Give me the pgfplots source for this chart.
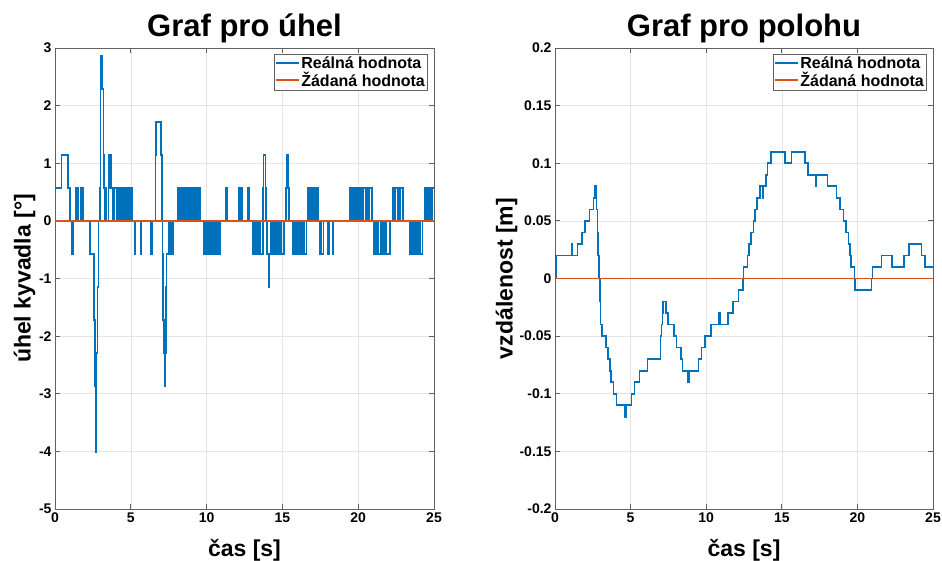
\documentclass[border=0pt]{standalone}
\usepackage{pgfplots}
\pgfplotsset{compat=1.18}
\usepackage{fontspec}
\setmainfont{Liberation Sans}
\definecolor{mblue}{rgb}{0,0.447,0.741}
\definecolor{morange}{rgb}{0.85,0.325,0.098}
\definecolor{maxis}{rgb}{0.38,0.38,0.38}
\pgfplotsset{
  every axis title shift=0pt,
  mystyle/.style={
    scale only axis,
    anchor=south west,
    xmin=0, xmax=25,
    xtick={0,5,10,15,20,25},
    grid=major,
    major grid style={draw=black!10, line width=0.6pt},
    axis line style={draw=maxis, line width=0.8pt},
    major tick style={draw=maxis, line width=0.8pt},
    major tick length=5pt,
    tick align=inside,
    /pgf/number format/assume math mode=true,
    tick label style={font=\fontsize{14}{16}\selectfont\bfseries},
    title style={font=\fontsize{31}{34}\selectfont\bfseries, at={(axis description cs:0.5,1)}, anchor=south, inner sep=0pt, yshift=4.5pt},
    xlabel style={font=\fontsize{23}{26}\selectfont\bfseries, at={(axis description cs:0.5,0)}, anchor=north, inner sep=0pt, yshift=-30pt},
    ylabel style={font=\fontsize{23}{26}\selectfont\bfseries, anchor=center, inner sep=0pt},
    legend style={font=\fontsize{16}{18}\selectfont\bfseries, draw=maxis, inner xsep=1.5pt, inner ysep=1.5pt, row sep=0pt, column sep=0pt, nodes={inner xsep=1pt, inner ysep=1pt}},
    legend cell align=left,
  },
  realna/.style={const plot, mblue, line width=1.6pt, mark=none,
    legend image code/.code={\draw[draw=mblue, line width=2pt] (0pt,0pt) -- (23pt,0pt);}},
  zadana/.style={morange, line width=1.8pt, mark=none,
    legend image code/.code={\draw[draw=morange, line width=2pt] (0pt,0pt) -- (23pt,0pt);}},
}
\begin{document}
\begin{tikzpicture}
\path[use as bounding box] (0,0) rectangle (942pt,560pt);
\begin{axis}[mystyle,
  at={(55pt,51pt)}, width=379pt, height=461pt,
  ymin=-5, ymax=3, ytick={-5,-4,-3,-2,-1,0,1,2,3},
  title={Graf pro úhel},
  xlabel={čas [s]},
  ylabel={úhel kyvadla [°]},
  ylabel style={at={(axis description cs:-0.08,0.5)}},
  legend style={at={(axis description cs:0.983,0.987)}, anchor=north east},
]
\addplot[realna] coordinates {
(0,0.573) (0.44,1.146) (0.84,0.573) (0.97,0) (1.1,-0.573) (1.2,0)
(1.38,0.573) (1.45,0) (1.48,0.573) (1.54,0) (1.69,0.573) (1.78,0) (1.8,0.573) (1.87,0)
(2.30,-0.573) (2.59,-1.719) (2.63,-2.865) (2.66,-4.011) (2.70,-3.438) (2.74,-2.292) (2.80,-1.146)
(2.86,0) (2.95,0.573) (3.00,2.292) (3.05,2.865) (3.14,2.292) (3.20,1.146) (3.25,0.573) (3.30,0)
(3.35,0.573) (3.40,0) (3.52,0.573) (3.58,1.146) (3.70,0.573) (3.78,0) (3.82,0.573)
(3.85,0) (3.90,0.573) (4.05,0) (4.08,0.573) (4.15,0) (4.18,0.573) (4.22,0) (4.25,0.573) (4.30,0)
(4.33,0.573) (4.40,0) (4.42,0.573) (4.48,0) (4.52,0.573) (4.56,0) (4.60,0.573) (4.65,0)
(4.68,0.573) (4.72,0) (4.75,0.573) (4.80,0) (4.83,0.573) (4.88,0) (4.92,0.573) (4.96,0)
(5.00,0.573) (5.06,0)
(5.27,-0.573) (5.32,0) (5.65,-0.573) (5.70,0) (6.32,-0.573) (6.38,0)
(6.62,1.146) (6.66,1.719) (7.00,1.146) (7.04,0) (7.10,-0.573) (7.14,-1.719) (7.18,-2.292)
(7.22,-2.865) (7.27,-2.292) (7.31,-1.146) (7.36,-0.573) (7.48,0) (7.52,-0.573) (7.58,0)
(7.62,-0.573) (7.70,0) (7.74,-0.573) (7.80,0)
(8.08,0.573) (8.15,0) (8.18,0.573) (8.25,0) (8.38,0.573) (8.45,0) (8.48,0.573) (8.52,0)
(8.55,0.573) (8.62,0) (8.65,0.573) (8.72,0) (8.75,0.573) (8.85,0) (8.95,0.573) (9.02,0)
(9.05,0.573) (9.12,0) (9.16,0.573) (9.25,0) (9.30,0.573) (9.40,0) (9.44,0.573) (9.58,0)
(9.82,-0.573) (9.88,0) (10.02,-0.573) (10.08,0) (10.18,-0.573) (10.25,0) (10.32,-0.573) (10.38,0)
(10.48,-0.573) (10.55,0) (10.62,-0.573) (10.70,0) (10.82,-0.573) (10.90,0)
(11.28,0.573) (11.36,0) (12.15,0.573) (12.22,0) (12.30,0.573) (12.35,0) (12.74,0.573) (12.80,0)
(13.05,-0.573) (13.10,0) (13.15,-0.573) (13.25,0) (13.35,-0.573) (13.45,0) (13.55,-0.573) (13.72,0)
(13.74,0.573) (13.76,1.146) (13.88,0.573) (13.92,0)
(14.00,-0.573) (14.10,-1.146) (14.16,-0.573) (14.25,0) (14.30,-0.573) (14.40,0) (14.45,-0.573)
(14.55,0) (14.60,-0.573) (14.70,0) (14.75,-0.573) (14.85,0) (14.90,-0.573) (15.10,0)
(15.25,0.573) (15.29,1.146) (15.35,0.573) (15.45,0)
(15.70,-0.573) (15.78,0) (15.85,-0.573) (15.95,0) (16.05,-0.573) (16.15,0) (16.25,-0.573)
(16.35,0) (16.45,-0.573) (16.60,0)
(16.70,0.573) (16.80,0) (16.85,0.573) (16.95,0) (17.05,0.573) (17.15,0) (17.20,0.573) (17.35,0)
(17.45,-0.573) (17.52,0) (17.58,-0.573) (17.70,0) (18.00,-0.573) (18.08,0) (18.30,-0.573) (18.38,0)
(19.45,0.573) (19.55,0) (19.60,0.573) (19.70,0) (19.75,0.573) (19.85,0) (19.90,0.573) (20.0,0)
(20.05,0.573) (20.15,0) (20.2,0.573) (20.3,0) (20.35,0.573) (20.5,0) (20.55,0.573) (20.65,0)
(20.7,0.573) (20.9,0)
(21.0,-0.573) (21.1,0) (21.2,-0.573) (21.3,0) (21.35,-0.573) (21.5,0) (21.55,-0.573) (21.65,0)
(21.7,-0.573) (21.8,0) (21.85,-0.573) (22.1,0)
(22.3,0.573) (22.4,0) (22.45,0.573) (22.6,0) (22.65,0.573) (22.75,0) (22.8,0.573) (22.95,0)
(23.4,-0.573) (23.5,0) (23.55,-0.573) (23.65,0) (23.7,-0.573) (23.8,0) (23.85,-0.573) (23.95,0)
(24.0,-0.573) (24.1,0) (24.12,-0.573) (24.25,0)
(24.4,0.573) (24.5,0) (24.55,0.573) (24.65,0) (24.7,0.573) (24.8,0) (24.85,0.573) (25,0.573)
};
\addlegendentry{Reálná hodnota}
\addplot[zadana] coordinates {(0,0) (25,0)};
\addlegendentry{Žádaná hodnota}
\end{axis}
\begin{axis}[mystyle,
  at={(555pt,51pt)}, width=378pt, height=461pt,
  ymin=-0.2, ymax=0.2, ytick={-0.2,-0.15,-0.1,-0.05,0,0.05,0.1,0.15,0.2},
  yticklabels={-0.2,-0.15,-0.1,-0.05,0,0.05,0.1,0.15,0.2},
  title={Graf pro polohu},
  xlabel={čas [s]},
  ylabel={vzdálenost [m]},
  ylabel style={at={(axis description cs:-0.128,0.5)}},
  legend style={at={(axis description cs:0.983,0.987)}, anchor=north east},
]
\addplot[realna] coordinates {
(0,0) (0.05,0.02) (1.08,0.03) (1.12,0.02) (1.5,0.03) (1.79,0.04) (2.0,0.05) (2.29,0.06)
(2.55,0.07) (2.62,0.08) (2.67,0.07) (2.69,0.08) (2.74,0.06) (2.80,0.04) (2.86,0.02) (2.92,0)
(2.97,-0.02) (3.02,-0.04) (3.09,-0.05) (3.37,-0.06) (3.52,-0.07) (3.63,-0.08) (3.72,-0.09)
(3.86,-0.10) (4.08,-0.11) (4.60,-0.12) (4.68,-0.11) (5.07,-0.10) (5.25,-0.09) (5.60,-0.08)
(6.11,-0.07) (6.99,-0.05) (7.05,-0.04) (7.10,-0.03) (7.16,-0.02) (7.34,-0.03) (7.49,-0.04)
(7.86,-0.05) (8.04,-0.06) (8.33,-0.07) (8.42,-0.08) (8.80,-0.09) (8.86,-0.08) (9.48,-0.07)
(9.70,-0.06) (9.92,-0.05) (10.30,-0.04) (10.85,-0.03) (10.90,-0.04) (11.43,-0.03) (11.76,-0.02)
(12.14,-0.01) (12.43,0) (12.47,0.01) (12.57,0.01) (12.72,0.02) (12.83,0.03) (12.96,0.04)
(13.12,0.05) (13.23,0.06) (13.34,0.07) (13.56,0.08) (13.72,0.07) (13.76,0.08) (13.95,0.09)
(14.06,0.10) (14.29,0.11) (15.21,0.10) (15.65,0.11) (16.53,0.10) (16.75,0.09) (17.26,0.08)
(17.30,0.09) (18.01,0.08) (18.63,0.07) (18.85,0.06) (19.07,0.05) (19.24,0.04) (19.40,0.03)
(19.51,0.02) (19.58,0.01) (19.80,0) (19.85,-0.01) (20.94,0) (21.0,0.01) (21.6,0.02) (22.27,0.01)
(23.08,0.02) (23.43,0.03) (24.25,0.02) (24.47,0.01) (25,0.01)
};
\addlegendentry{Reálná hodnota}
\addplot[zadana] coordinates {(0,0) (25,0)};
\addlegendentry{Žádaná hodnota}
\end{axis}
\end{tikzpicture}
\end{document}
